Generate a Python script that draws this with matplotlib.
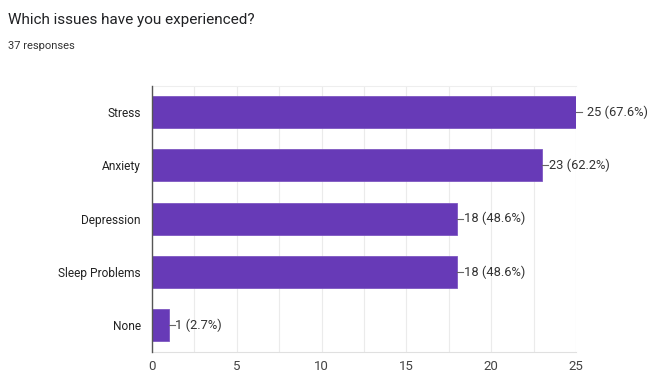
import matplotlib
matplotlib.use("Agg")
import matplotlib.pyplot as plt
import numpy as np

categories = ["Stress", "Anxiety", "Depression", "Sleep Problems", "None"]
counts = [25, 23, 18, 18, 1]
percents = ["67.6%", "62.2%", "48.6%", "48.6%", "2.7%"]
xticks = [0, 5, 10, 15, 20, 25]
title = "Which issues have you experienced?"
subtitle = "37 responses"

plt.rcParams['font.family'] = ['Roboto', 'DejaVu Sans']

W, H = 652, 374
fig = plt.figure(figsize=(W / 100, H / 100), dpi=100)
left, right = 152 / W, 576 / W
top, bottom = 1 - 85.5 / H, 1 - 351.7 / H
ax = fig.add_axes([left, bottom, right - left, top - bottom])

y = np.arange(len(categories))
ax.barh(y, counts, height=0.6, color="#673ab7", edgecolor="#7e57c2", linewidth=0.6, zorder=3)
ax.set_ylim(len(categories) - 0.5, -0.5)
ax.set_xlim(0, 25)

for i, (c, p) in enumerate(zip(counts, percents)):
    ax.plot([c, c + 0.35], [i, i], color="#666666", lw=0.8, zorder=4, clip_on=False)
    ax.text(c + 0.38 if c < 25 else c + 0.65, i, f"{c} ({p})", va="center", ha="left",
            fontsize=9.3, color="#333333", clip_on=False)

ax.set_yticks(y)
ax.set_yticklabels(categories, fontsize=8.6, color="#222222")
ax.set_xticks(xticks)
ax.set_xticklabels([str(t) for t in xticks], fontsize=9.5, color="#444444")
ax.set_xticks(np.arange(0, 25.01, 2.5), minor=True)
ax.tick_params(axis="both", which="both", length=0)
ax.tick_params(axis="y", pad=8)
ax.tick_params(axis="x", pad=6)
ax.grid(axis="x", which="both", color="#ebebeb", lw=0.8, zorder=0)

ax.spines["right"].set_visible(False)
ax.spines["top"].set_color("#eeeeee")
ax.spines["bottom"].set_color("#e0e0e0")
ax.spines["left"].set_color("#555555")
ax.spines["left"].set_linewidth(1.0)
ax.spines["left"].set_zorder(5)

fig.text(8 / W, 1 - 20 / H, title, fontsize=11, color="#202124", va="center", ha="left")
fig.text(8 / W, 1 - 46 / H, subtitle, fontsize=8, color="#333333", va="center", ha="left")

fig.savefig("out.png", dpi=100, facecolor="white")
